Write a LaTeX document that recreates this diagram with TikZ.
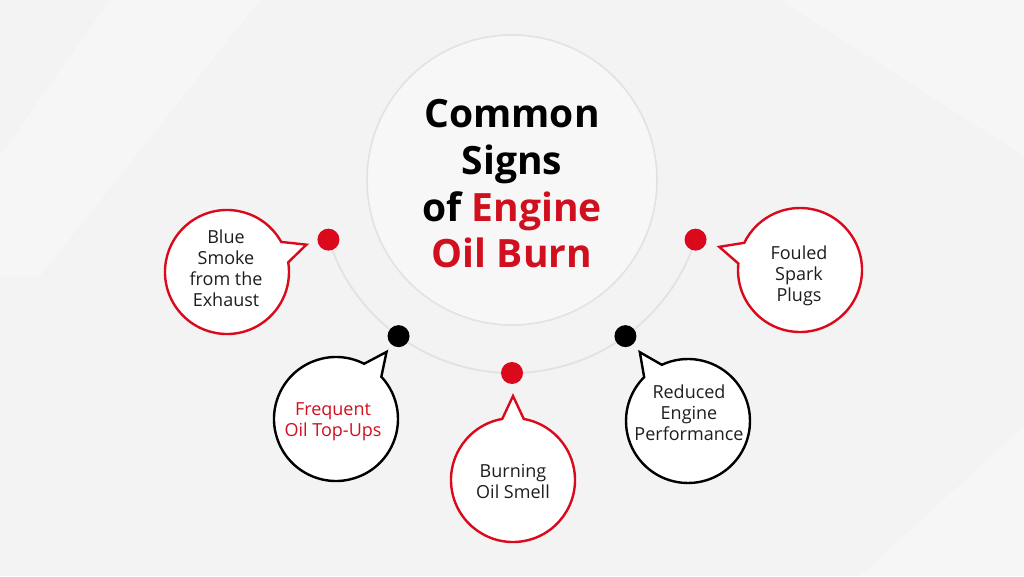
\documentclass[tikz,border=0pt]{standalone}
\usepackage{fontspec}
\setmainfont{Open Sans}
\usetikzlibrary{calc,backgrounds}
\definecolor{bg}{HTML}{F3F3F3}
\definecolor{brandred}{HTML}{DA0A1C}
\definecolor{txtred}{HTML}{D0101F}
\definecolor{ringgray}{HTML}{E2E2E2}
\definecolor{txtdark}{HTML}{1E1E1E}
\tikzset{
  title/.style={align=center, inner sep=0pt, font=\bfseries\fontsize{39}{46.7}\selectfont},
  btext/.style={align=center, inner sep=0pt, text=txtdark, font=\fontsize{18}{21}\selectfont},
  dotred/.style={circle, fill=brandred, minimum size=22pt, inner sep=0pt},
  dotblack/.style={circle, fill=black, minimum size=22pt, inner sep=0pt},
  bubred/.style={draw=brandred, line width=2.4pt, fill=white, line join=miter},
  bubblack/.style={draw=black, line width=2.4pt, fill=white, line join=miter},
}
\newcommand{\bubbleshape}[3]{% #1 center coord, #2 direction, #3 style
  \draw[#3] ($(#1)+(#2+10:62)$) arc[start angle=#2+10, end angle=#2+350, radius=62]
    -- ($(#1)+(#2:84)$) -- cycle;
}
\begin{document}
\begin{tikzpicture}[x=1pt,y=1pt]
\useasboundingbox (0,0) rectangle (1024,576);
% central circle
\node[circle, draw=ringgray, line width=1.6pt, fill=bg!70!white, minimum size=290pt, inner sep=0pt] (hub) at (512,396) {};
\node[title] (t) at (512,392) {Common\\Signs\\of \textcolor{txtred}{Engine}\\\textcolor{txtred}{Oil Burn}};
% dots on the arc
\coordinate (ac) at (512,396);
\node[dotred]   (d1) at ($(ac)+(198:193)$) {};
\node[dotblack] (d2) at ($(ac)+(234:193)$) {};
\node[dotred]   (d3) at ($(ac)+(270:193)$) {};
\node[dotblack] (d4) at ($(ac)+(306:193)$) {};
\node[dotred]   (d5) at ($(ac)+(342:193)$) {};
\begin{scope}[on background layer]
  \fill[bg] (0,0) rectangle (1024,576);
  \fill[white,opacity=0.3] (110,576) -- (260,576) -- (40,300) -- (0,300) -- (0,420) -- cycle;
  \fill[white,opacity=0.25] (780,576) -- (1024,576) -- (1024,420) -- cycle;
  \fill[white,opacity=0.25] (860,0) -- (1024,0) -- (1024,150) -- cycle;
  \draw[ringgray, line width=1.8pt] (d1.center) arc[start angle=198, end angle=342, radius=193];
\end{scope}
% bubbles
\coordinate (c1) at (227,304);
\coordinate (c2) at (336,157);
\coordinate (c3) at (513,96);
\coordinate (c4) at (688,155);
\coordinate (c5) at (800,306);
\bubbleshape{c1}{19}{bubred}
\bubbleshape{c2}{53}{bubblack}
\bubbleshape{c3}{90}{bubred}
\bubbleshape{c4}{125}{bubblack}
\bubbleshape{c5}{164}{bubred}
\node[btext] (b1) at (226,308) {Blue\\Smoke\\from the\\Exhaust};
\node[btext, text=txtred] (b2) at (333,154) {Frequent\\Oil Top-Ups};
\node[btext] (b3) at (513,95) {Burning\\Oil Smell};
\node[btext] (b4) at (689,163) {Reduced\\Engine\\Performance};
\node[btext] (b5) at (799,300) {Fouled\\Spark\\Plugs};
\end{tikzpicture}
\end{document}
